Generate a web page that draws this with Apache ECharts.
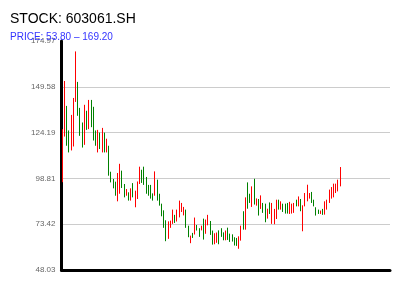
<!DOCTYPE html>
<html>
<head>
<meta charset="utf-8">
<script src="https://cdn.jsdelivr.net/npm/echarts@6/dist/echarts.min.js"></script>
<style>html,body{margin:0;padding:0;background:#fff}#c{width:400px;height:300px}</style>
</head>
<body>
<div id="c"></div>
<script>
// ---- data ----
var titleText = 'STOCK: 603061.SH';
var subtitleText = 'PRICE: 53.80 \u2013 169.20';
var yMin = 48.03;
var yMax = 174.97;
var yTickLabels = [48.03, 73.42, 98.81, 124.19, 149.58, 174.97];
var totalSlots = 149;
// direction of each candle: 1 = up (red), -1 = down (green)
var candleDir = [
  1, 1,-1,-1, 1, 1, 1,-1,-1,-1, 1,-1, 1,-1,-1,-1, 1,-1, 1,-1, 1,-1,-1,-1,-1, 1,
  1,-1,-1, 1,-1, 1,-1, 1, 1, 1,-1,-1,-1,-1,-1,-1, 1,-1,-1,-1,-1,-1, 1, 1, 1,-1, 1,
  1, 1, 1,-1,-1, 1,-1, 1,-1,-1, 1,-1, 1, 1,-1,-1, 1, 1,-1,-1,-1, 1,-1,-1,-1,-1,
 -1, 1, 1,-1, 1,-1,-1, 1,-1, 1,-1, 1,-1,-1, 1,-1, 1, 1, 1,-1, 1,-1,-1,-1, 1, 1, 1,
 -1, 1,-1, 1, 1, 1, 1,-1,-1,-1,-1, 1,-1, 1, 1, 1, 1, 1, 1, 1, 1
];
var candleHigh = [
  126.1,152.8,139.0,125.4,134.0,143.4,169.2,152.3,137.9,129.8,139.6,136.3,142.3,142.3,138.5,125.4,125.7,124.2,126.8,124.2,120.8,116.9,102.5,98.5,97.0,101.8,
  106.9,103.1,95.7,92.9,91.1,93.3,96.2,92.0,97.1,105.3,103.6,105.3,99.6,95.2,95.2,90.5,102.7,98.1,90.3,84.8,81.1,75.6,75.0,75.4,81.5,78.6,81.5,
  86.5,85.2,83.0,81.5,72.6,67.1,68.6,77.1,73.0,71.2,72.6,76.5,76.0,78.6,75.2,69.9,68.4,68.8,70.0,71.2,68.9,69.9,71.5,68.2,67.8,66.2,
  65.8,66.7,72.6,80.6,88.3,96.6,90.3,94.4,98.6,87.7,87.4,89.4,85.2,84.8,82.0,85.5,85.2,81.9,87.0,87.0,86.1,84.8,84.8,85.2,85.8,84.8,85.2,
  87.0,88.8,87.4,83.9,90.7,95.3,90.7,91.3,87.0,82.8,81.5,81.0,81.9,86.1,87.0,92.6,94.0,95.9,95.9,98.1,105.1
];
var candleLow = [
  96.7,122.0,116.9,113.2,114.3,116.5,141.2,133.5,122.4,115.9,117.4,125.7,126.1,127.2,119.8,116.9,113.2,115.1,113.2,113.2,113.2,100.3,96.6,93.3,89.2,86.1,
  90.3,93.5,88.3,89.2,86.5,86.5,88.3,82.8,87.4,95.7,96.3,95.2,90.3,89.2,87.6,86.5,89.2,86.5,83.7,77.8,71.4,64.0,65.3,71.4,73.6,74.1,74.9,
  77.2,80.2,78.3,71.4,66.2,62.9,65.8,67.7,69.9,66.4,70.0,64.9,68.1,72.8,67.5,62.1,62.3,63.1,62.3,66.4,64.5,64.5,64.7,63.6,63.8,61.6,
  61.4,59.8,64.3,70.4,70.4,82.0,85.2,83.0,84.3,83.7,78.2,81.9,79.7,74.5,76.5,79.1,73.6,73.4,76.3,81.5,81.5,80.2,79.3,79.3,79.1,79.3,79.7,
  83.3,83.3,80.6,69.5,83.3,86.1,87.6,85.2,83.3,78.2,79.1,79.1,78.6,78.7,81.5,85.2,87.6,88.3,90.7,91.6,94.4
];

// ---- build options ----
var categories = [];
for (var i = 0; i < totalSlots; i++) categories.push(String(i + 1));
var ohlc = candleDir.map(function (d, i) {
  var lo = candleLow[i], hi = candleHigh[i];
  return d > 0 ? [lo, hi, lo, hi] : [hi, lo, lo, hi];
});

var FONT = 'Liberation Sans, Arial, Helvetica, sans-serif';
var chart = echarts.init(document.getElementById('c'), null, {renderer: 'canvas'});
chart.setOption({
  animation: false,
  backgroundColor: '#fff',
  title: [
    {text: titleText, left: 10, top: 12, padding: 0,
     textStyle: {fontSize: 14, fontWeight: 'normal', color: '#000', fontFamily: FONT}},
    {text: subtitleText, left: 10, top: 32, padding: 0,
     textStyle: {fontSize: 10, fontWeight: 'normal', color: '#3333ff', fontFamily: FONT}}
  ],
  grid: {left: 61.5, right: 10, top: 41, bottom: 30},
  xAxis: {
    type: 'category', data: categories, boundaryGap: true,
    axisLine: {lineStyle: {color: '#000', width: 3}},
    axisTick: {show: false}, axisLabel: {show: false}, splitLine: {show: false}
  },
  yAxis: {
    type: 'value', min: yMin, max: yMax,
    axisLine: {show: true, lineStyle: {color: '#000', width: 3}},
    axisTick: {show: false, customValues: yTickLabels},
    axisLabel: {customValues: yTickLabels, fontSize: 8, color: '#666', margin: 6, fontFamily: FONT,
      formatter: function (v) { return v.toFixed(2); }},
    splitLine: {show: true, showMaxLine: false, showMinLine: false, lineStyle: {color: '#ccc', width: 1}}
  },
  series: [{
    type: 'candlestick',
    data: ohlc,
    barWidth: 1,
    itemStyle: {color: '#ff0000', color0: '#008000', borderColor: '#ff0000', borderColor0: '#008000', borderWidth: 1}
  }]
});
</script>
</body>
</html>
